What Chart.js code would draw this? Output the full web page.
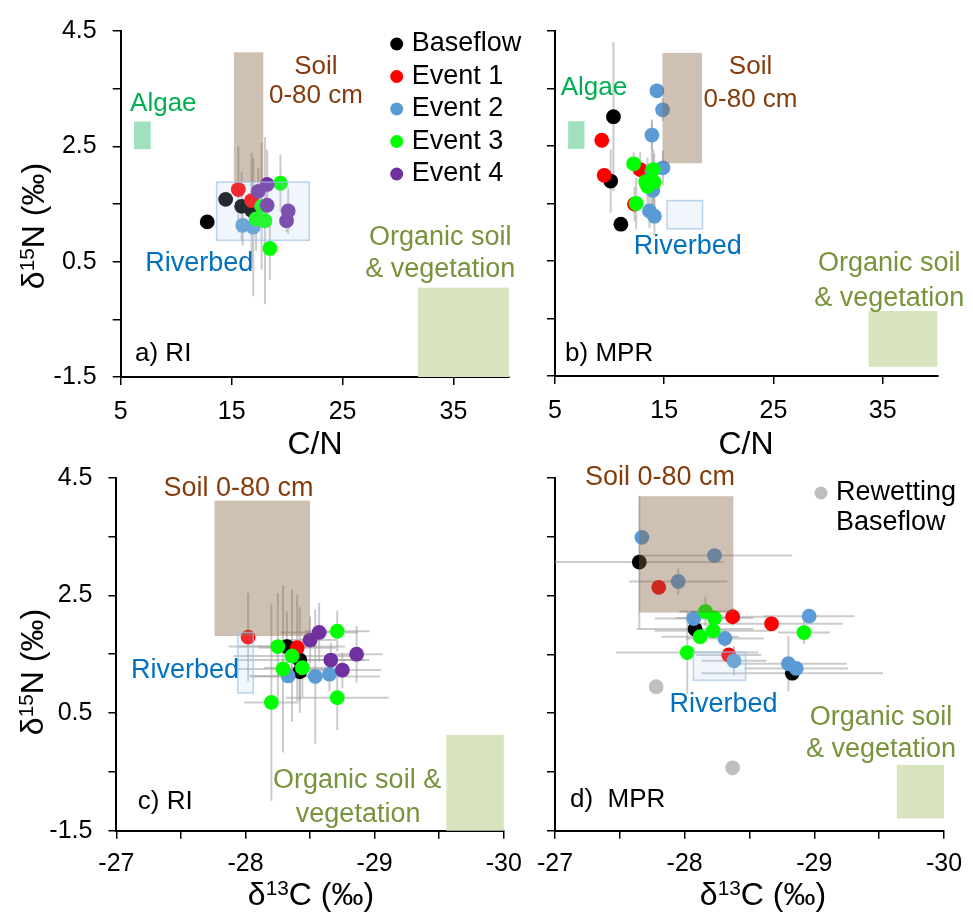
<!DOCTYPE html>
<html>
<head>
<meta charset="utf-8">
<script src="https://cdn.jsdelivr.net/npm/chart.js@4.4.1/dist/chart.umd.min.js"></script>
<style>
  body { margin: 0; background: #fff; }
  #wrap { position: relative; width: 973px; height: 917px; }
  #wrap canvas { position: absolute; left: 0; top: 0; }
</style>
</head>
<body>
<div id="wrap">
  <canvas id="chartA" width="973" height="917"></canvas>
  <canvas id="chartB" width="973" height="917"></canvas>
  <canvas id="chartC" width="973" height="917"></canvas>
  <canvas id="chartD" width="973" height="917"></canvas>
</div>
<script>
const seriesNames = ['Baseflow', 'Event 1', 'Event 2', 'Event 3', 'Event 4'];
const seriesColors = ['#000000', '#ff0000', '#5b9bd5', '#00ff00', '#7030a0'];

// axis ticks
const cnTicks = [5, 15, 25, 35];
const cnLabels = [5, 15, 25, 35];
const d13cTicks = [-27, -27.5, -28, -28.5, -29, -29.5, -30];
const d13cLabels = [-27, -28, -29, -30];
const d15nTicks = [4.5, 3.5, 2.5, 1.5, 0.5, -0.5, -1.5];
const d15nLabels = [4.5, 2.5, 0.5, -1.5];

// points: [x, y, xErr, yErr]
// a) RI, C/N vs d15N
const aBaseflow = [[12.8, 1.19, 0, 0], [14.46, 1.58, 0, 0], [15.9, 1.46, 0, 0.6], [16.8, 1.39, 0, 1.0]];
const aEvent1 = [[15.6, 1.75, 0, 0.75], [16.8, 1.56, 0, 0.35]];
const aEvent2 = [[16.0, 1.13, 0, 0.35], [16.95, 1.10, 0, 1.2]];
const aEvent3 = [[19.4, 1.86, 0, 0.5], [17.2, 1.24, 0, 0.55], [18.0, 1.21, 0, 1.45], [17.7, 1.46, 0, 1.1], [18.45, 0.73, 0, 0.55]];
const aEvent4 = [[18.2, 1.84, 0, 0.6], [17.4, 1.72, 0, 0.4], [18.2, 1.48, 0, 0.35], [20.1, 1.38, 0, 0.4], [19.95, 1.21, 0, 0.2]];

// b) MPR, C/N vs d15N
const bBaseflow = [[10.35, 3.01, 0, 1.3], [10.1, 1.89, 0, 0.55], [11.03, 1.14, 0, 0]];
const bEvent1 = [[9.28, 2.60, 0, 0], [12.8, 2.09, 0, 0.3], [9.5, 1.99, 0, 0], [12.28, 1.49, 0, 0.3]];
const bEvent2 = [[14.33, 3.46, 0, 0], [14.85, 3.13, 0, 0.2], [13.87, 2.69, 0, 0.25], [14.88, 2.12, 0, 0.3], [13.87, 2.06, 0, 0.9], [13.96, 1.73, 0, 0.4], [13.65, 1.37, 0, 0.3], [14.1, 1.28, 0, 0.33]];
const bEvent3 = [[12.2, 2.19, 0, 0.2], [14.0, 2.09, 0, 0.35], [14.08, 1.87, 0, 0.5], [13.47, 1.80, 0, 0.5], [13.3, 1.88, 0, 0.2], [12.43, 1.50, 0, 0.45]];
const bEvent4 = [];

// c) RI, d13C vs d15N
const cBaseflow = [[-28.32, 1.63, 0.45, 0.6], [-28.42, 1.40, 0.5, 0.9], [-28.42, 1.20, 0, 0.5]];
const cEvent1 = [[-28.02, 1.79, 0, 0.75], [-28.40, 1.61, 0.3, 0.9]];
const cEvent2 = [[-28.33, 1.13, 0.3, 0], [-28.54, 1.12, 0.5, 1.14], [-28.65, 1.16, 0, 0.3]];
const cEvent3 = [[-28.25, 1.63, 0.3, 0.9], [-28.36, 1.47, 0.45, 1.12], [-28.29, 1.25, 0.35, 1.42], [-28.44, 1.27, 0.3, 0.5], [-28.71, 1.89, 0.25, 0.35], [-28.71, 0.76, 0.4, 0.55], [-28.20, 0.68, 0.21, 1.67]];
const cEvent4 = [[-28.50, 1.74, 0.2, 0.4], [-28.57, 1.87, 0.3, 0.5], [-28.66, 1.40, 0.3, 0.3], [-28.86, 1.50, 0.2, 0.48], [-28.75, 1.23, 0.3, 0.3]];

// d) MPR, d13C vs d15N
const dBaseflow = [[-27.65, 3.07, 0.65, 1.13], [-28.08, 1.93, 0.45, 0], [-28.83, 1.18, 0.7, 0]];
const dEvent1 = [[-27.80, 2.64, 0, 0], [-28.37, 2.14, 0.3, 0.15], [-28.67, 2.02, 0.55, 0], [-28.34, 1.49, 0.25, 0]];
const dEvent2 = [[-27.67, 3.49, 0, 0], [-28.23, 3.18, 0.6, 0], [-27.95, 2.74, 0.38, 0.22], [-28.07, 2.11, 0.3, 0], [-28.31, 1.77, 0.3, 0.15], [-28.96, 2.15, 0.35, 0], [-28.38, 1.39, 0.25, 0.25], [-28.80, 1.34, 0.45, 0.47], [-28.86, 1.26, 0.4, 0]];
const dEvent3 = [[-28.16, 2.23, 0.2, 0.25], [-28.23, 2.12, 0.3, 0], [-28.22, 1.90, 0.45, 0], [-28.12, 1.80, 0.3, 0], [-28.92, 1.87, 0.2, 0.2], [-28.02, 1.53, 0.55, 0.7]];
const dEvent4 = [];
const dRewetting = [[-27.78, 0.95], [-28.37, -0.43]];

// source ranges: [xMin, xMax, yMin, yMax]
const algaeCN = [6.2, 7.7, 2.45, 2.93];
const soilCN_RI = [15.2, 17.85, 1.88, 4.13];
const riverbedCN_RI = [13.65, 22.0, 0.87, 1.88];
const organicCN_RI = [31.8, 40, -1.5, 0.05];
const soilCN_MPR = [14.84, 18.46, 2.20, 4.12];
const riverbedCN_MPR = [15.25, 18.51, 1.06, 1.55];
const organicCN_MPR = [33.7, 40, -1.34, -0.37];
const soilC_RI = [-28.5, -27.76, 1.81, 4.11];
const riverbedC_RI = [-28.06, -27.94, 0.84, 1.87];
const organicC_RI = [-30, -29.555, -1.5, 0.13];
const soilC_MPR = [-28.375, -27.648, 2.21, 4.19];
const riverbedC_MPR = [-28.47, -28.067, 1.06, 1.54];
const organicC_MPR = [-30, -29.636, -1.29, -0.38];

const FAMILY = '"Liberation Sans", Arial, sans-serif';
const SOIL = '#843c0c', ALGAE = '#00b050', RIVER = '#0070c0', ORGANIC = '#77933c';
const boxStyle = {
  soil: { fill: 'rgba(135,97,67,0.4)' },
  algae: { fill: 'rgba(0,176,80,0.38)' },
  river: { fill: 'rgba(180,210,235,0.2)', stroke: 'rgba(157,195,230,0.7)' },
  organic: { fill: '#d7e4bd' }
};

function series(points, i) {
  return {
    label: seriesNames[i],
    data: points.map(p => ({ x: p[0], y: p[1] })),
    err: points.map(p => [p[2] || 0, p[3] || 0]),
    backgroundColor: seriesColors[i],
    borderWidth: 0,
    pointRadius: 7.4,
    pointHoverRadius: 7.4,
    order: seriesNames.length - i
  };
}

function axis(o) {
  return {
    type: 'linear',
    min: o.min, max: o.max, reverse: !!o.reverse,
    afterBuildTicks: s => { s.ticks = o.ticks.map(v => ({ value: v })); },
    afterFit: s => { if (o.horizontal) s.height = o.size; else s.width = o.size; },
    ticks: {
      autoSkip: false, maxRotation: 0, padding: o.padding,
      color: '#000', font: { family: FAMILY, size: 25 },
      callback: v => (o.labels.includes(v) ? String(v) : '')
    },
    grid: { drawOnChartArea: false, drawTicks: true, tickLength: 8, color: '#000', lineWidth: 1.5 },
    border: { display: true, color: '#000', width: 2 }
  };
}

function drawRich(ctx, parts, cx, cy, size, rotate) {
  let w = 0;
  const runs = parts.map(p => {
    const sup = Array.isArray(p);
    const t = sup ? p[0] : p;
    const s = sup ? size * 0.65 : size;
    ctx.font = s + 'px ' + FAMILY;
    const r = { t, s, sup, x: w };
    w += ctx.measureText(t).width;
    return r;
  });
  ctx.save();
  ctx.translate(cx, cy);
  if (rotate) ctx.rotate(-Math.PI / 2);
  ctx.fillStyle = '#000';
  ctx.textAlign = 'left';
  ctx.textBaseline = 'alphabetic';
  runs.forEach(r => {
    ctx.font = r.s + 'px ' + FAMILY;
    ctx.fillText(r.t, r.x - w / 2, size * 0.36 - (r.sup ? size * 0.3 : 0));
  });
  ctx.restore();
}

function makeChart(id, datasets, xAxis, yAxis, layout, extra) {
  const plugin = {
    id: 'panel_' + id,
    beforeDatasetsDraw(chart) {
      const { ctx, chartArea: a, scales: { x, y } } = chart;
      ctx.save();
      ctx.beginPath();
      ctx.rect(a.left, a.top, a.width, a.height);
      ctx.clip();
      ctx.strokeStyle = 'rgba(160,160,160,0.55)';
      ctx.lineWidth = 2;
      chart.data.datasets.forEach(ds => {
        (ds.err || []).forEach((e, k) => {
          const p = ds.data[k];
          ctx.beginPath();
          if (e[0]) {
            ctx.moveTo(x.getPixelForValue(p.x - e[0]), y.getPixelForValue(p.y));
            ctx.lineTo(x.getPixelForValue(p.x + e[0]), y.getPixelForValue(p.y));
          }
          if (e[1]) {
            ctx.moveTo(x.getPixelForValue(p.x), y.getPixelForValue(p.y - e[1]));
            ctx.lineTo(x.getPixelForValue(p.x), y.getPixelForValue(p.y + e[1]));
          }
          ctx.stroke();
        });
      });
      ctx.restore();
    },
    afterDatasetsDraw(chart) {
      const { ctx, chartArea: a, scales: { x, y } } = chart;
      ctx.save();
      extra.boxes.forEach(b => {
        const x0 = x.getPixelForValue(b.r[0]), x1 = x.getPixelForValue(b.r[1]);
        const y0 = y.getPixelForValue(b.r[2]), y1 = y.getPixelForValue(b.r[3]);
        const l = Math.min(x0, x1), t = Math.min(y0, y1);
        const w = Math.abs(x1 - x0), h = Math.abs(y1 - y0);
        ctx.fillStyle = b.s.fill;
        ctx.fillRect(l, t, w, h);
        if (b.s.stroke) {
          ctx.strokeStyle = b.s.stroke;
          ctx.lineWidth = 1.5;
          ctx.strokeRect(l, t, w, h);
        }
      });
      extra.texts.forEach(t => {
        ctx.font = (t.size || 27) + 'px ' + FAMILY;
        ctx.fillStyle = t.c || '#000';
        ctx.textAlign = t.align || 'center';
        ctx.textBaseline = 'middle';
        ctx.fillText(t.t, x.getPixelForValue(t.x), y.getPixelForValue(t.y));
      });
      if (extra.legend) {
        const lg = extra.legend;
        let row = 0;
        lg.items.forEach(i => {
          const ds = chart.data.datasets[i];
          const lines = lg.wrap ? ds.label.split(' ') : [ds.label];
          const cy = a.top + lg.dy + row * lg.gap;
          ctx.fillStyle = ds.backgroundColor;
          ctx.beginPath();
          ctx.arc(a.left + lg.dx, cy, 6.5, 0, Math.PI * 2);
          ctx.fill();
          ctx.fillStyle = '#000';
          ctx.font = '27px ' + FAMILY;
          ctx.textAlign = 'left';
          ctx.textBaseline = 'middle';
          lines.forEach((ln, j) => ctx.fillText(ln, a.left + lg.dx + 15, cy + j * lg.gap));
          row += lines.length;
        });
      }
      if (extra.xTitle) drawRich(ctx, extra.xTitle.parts, extra.xTitle.x, extra.xTitle.y, 32, false);
      if (extra.yTitle) drawRich(ctx, extra.yTitle.parts, extra.yTitle.x, extra.yTitle.y, 32, true);
      ctx.restore();
    }
  };
  return new Chart(document.getElementById(id), {
    type: 'scatter',
    data: { datasets },
    options: {
      responsive: false,
      animation: false,
      devicePixelRatio: 1,
      events: [],
      layout: { padding: layout },
      scales: { x: xAxis, y: yAxis },
      plugins: { legend: { display: false }, tooltip: { enabled: false } }
    },
    plugins: [plugin]
  });
}

const d15nTitle = ['δ', ['15'], 'N (‰)'];
const d13cTitle = ['δ', ['13'], 'C (‰)'];

// a) RI
makeChart('chartA',
  [aBaseflow, aEvent1, aEvent2, aEvent3, aEvent4].map(series),
  axis({ min: 5, max: 40, ticks: cnTicks, labels: cnLabels, horizontal: true, size: 60, padding: 12 }),
  axis({ min: -1.5, max: 4.5, ticks: d15nTicks, labels: d15nLabels, size: 100, padding: 16 }),
  { left: 20.7, right: 464, top: 24, bottom: 480 },
  {
    boxes: [
      { r: algaeCN, s: boxStyle.algae }, { r: soilCN_RI, s: boxStyle.soil },
      { r: riverbedCN_RI, s: boxStyle.river }, { r: organicCN_RI, s: boxStyle.organic }
    ],
    texts: [
      { t: 'Algae', x: 8.84, y: 3.23, c: ALGAE, size: 26 },
      { t: 'Soil', x: 22.6, y: 3.88, c: SOIL, size: 26 },
      { t: '0-80 cm', x: 22.6, y: 3.38, c: SOIL, size: 26 },
      { t: 'Riverbed', x: 12.08, y: 0.47, c: RIVER },
      { t: 'Organic soil', x: 33.8, y: 0.91, c: ORGANIC },
      { t: '& vegetation', x: 33.8, y: 0.37, c: ORGANIC },
      { t: 'a) RI', x: 6.29, y: -1.09, align: 'left', size: 26 }
    ],
    legend: { items: [0, 1, 2, 3, 4], dx: 276, dy: 13, gap: 32.5 },
    xTitle: { parts: ['C/N'], x: 315, y: 442 },
    yTitle: { parts: d15nTitle, x: 32, y: 226 }
  });

// b) MPR
makeChart('chartB',
  [bBaseflow, bEvent1, bEvent2, bEvent3, bEvent4].map(series),
  axis({ min: 5, max: 40, ticks: cnTicks, labels: cnLabels, horizontal: true, size: 60, padding: 12 }),
  axis({ min: -1.5, max: 4.5, ticks: d15nTicks, labels: [], size: 20, padding: 16 }),
  { left: 535, right: 35.7, top: 26, bottom: 481 },
  {
    boxes: [
      { r: algaeCN, s: boxStyle.algae }, { r: soilCN_MPR, s: boxStyle.soil },
      { r: riverbedCN_MPR, s: boxStyle.river }, { r: organicCN_MPR, s: boxStyle.organic }
    ],
    texts: [
      { t: 'Algae', x: 8.56, y: 3.52, c: ALGAE, size: 26 },
      { t: 'Soil', x: 22.9, y: 3.88, c: SOIL, size: 26 },
      { t: '0-80 cm', x: 22.9, y: 3.30, c: SOIL, size: 26 },
      { t: 'Riverbed', x: 17.16, y: 0.76, c: RIVER },
      { t: 'Organic soil', x: 35.6, y: 0.45, c: ORGANIC },
      { t: '& vegetation', x: 35.6, y: -0.15, c: ORGANIC },
      { t: 'b) MPR', x: 5.92, y: -1.11, align: 'left', size: 26 }
    ],
    xTitle: { parts: ['C/N'], x: 746, y: 442 }
  });

// c) RI
makeChart('chartC',
  [cBaseflow, cEvent1, cEvent2, cEvent3, cEvent4].map(series),
  axis({ min: -30, max: -27, reverse: true, ticks: d13cTicks, labels: d13cLabels, horizontal: true, size: 60, padding: 10 }),
  axis({ min: -1.5, max: 4.5, ticks: d15nTicks, labels: d15nLabels, size: 100, padding: 16 }),
  { left: 16.4, right: 469.2, top: 477.7, bottom: 26.3 },
  {
    boxes: [
      { r: soilC_RI, s: boxStyle.soil }, { r: riverbedC_RI, s: boxStyle.river },
      { r: organicC_RI, s: boxStyle.organic }
    ],
    texts: [
      { t: 'Soil 0-80 cm', x: -27.946, y: 4.32, c: SOIL },
      { t: 'Riverbed', x: -27.531, y: 1.22, c: RIVER },
      { t: 'Organic soil &', x: -28.864, y: -0.65, c: ORGANIC },
      { t: 'vegetation', x: -28.872, y: -1.217, c: ORGANIC },
      { t: 'c) RI', x: -27.166, y: -1.007, align: 'left', size: 26 }
    ],
    xTitle: { parts: d13cTitle, x: 311, y: 893 },
    yTitle: { parts: d15nTitle, x: 31, y: 672 }
  });

// d) MPR
const dSets = [dBaseflow, dEvent1, dEvent2, dEvent3, dEvent4].map(series);
dSets.push({
  label: 'Rewetting Baseflow',
  data: dRewetting.map(p => ({ x: p[0], y: p[1] })),
  backgroundColor: '#bfbfbf', borderWidth: 0, pointRadius: 7.4, pointHoverRadius: 7.4, order: 10
});
makeChart('chartD',
  dSets,
  axis({ min: -30, max: -27, reverse: true, ticks: d13cTicks, labels: d13cLabels, horizontal: true, size: 60, padding: 10 }),
  axis({ min: -1.5, max: 4.5, ticks: d15nTicks, labels: [], size: 20, padding: 16 }),
  { left: 535, right: 29, top: 478, bottom: 26.3 },
  {
    boxes: [
      { r: soilC_MPR, s: boxStyle.soil }, { r: riverbedC_MPR, s: boxStyle.river },
      { r: organicC_MPR, s: boxStyle.organic }
    ],
    texts: [
      { t: 'Soil 0-80 cm', x: -27.81, y: 4.5, c: SOIL },
      { t: 'Riverbed', x: -28.30, y: 0.64, c: RIVER },
      { t: 'Organic soil', x: -29.514, y: 0.417, c: ORGANIC },
      { t: '& vegetation', x: -29.514, y: -0.127, c: ORGANIC },
      { t: 'd)  MPR', x: -27.116, y: -0.978, align: 'left', size: 26 }
    ],
    legend: { items: [5], dx: 266, dy: 15, gap: 29.5, wrap: true },
    xTitle: { parts: d13cTitle, x: 763, y: 893 }
  });
</script>
</body>
</html>
